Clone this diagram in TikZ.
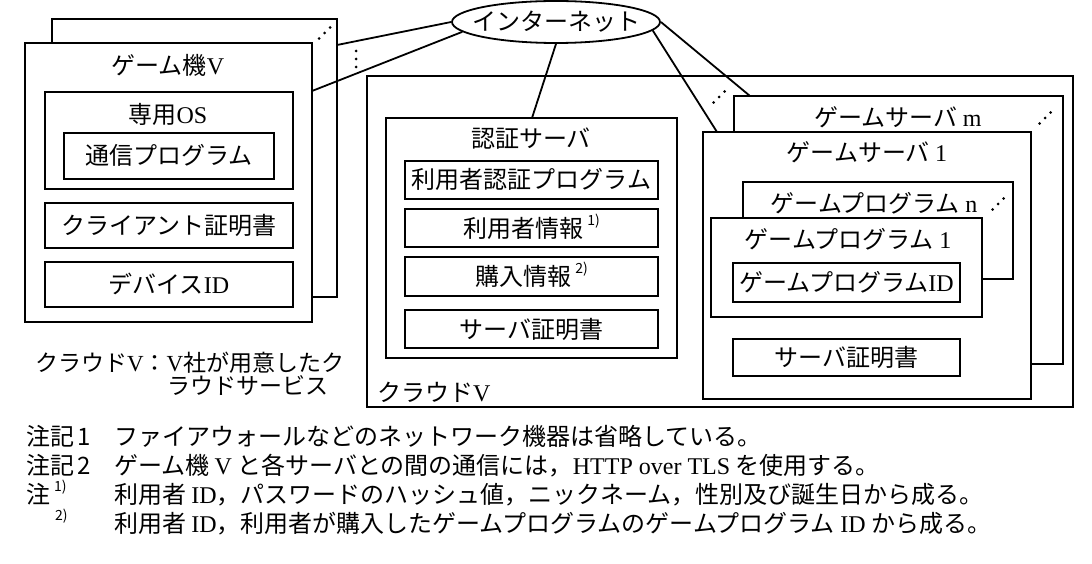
\documentclass[tikz,border=0pt]{standalone}
\usepackage{fontspec}
\setmainfont{Noto Sans CJK JP}
\newfontfamily\lt{Liberation Serif}
\usetikzlibrary{shapes.geometric,fit}
\newcommand\supn[1]{\raisebox{0.5em}{\fontsize{14}{14}\selectfont #1}}
\newcommand\udotsat[2]{\fill (#1-5.5,#2+5.5) circle (1.5) (#1,#2) circle (1.5) (#1+5.5,#2-5.5) circle (1.5);}
\begin{document}
\begin{tikzpicture}[x=1pt,y=-1pt,line width=1.8pt,
  box/.style={draw,fill=white,inner sep=0pt,outer sep=0pt},
  lbl/.style={inner sep=0pt,outer sep=0pt,text height=20pt,text depth=2pt},
  note/.style={inner sep=0pt,outer sep=0pt,anchor=base west,font=\fontsize{24}{27}\selectfont},
  link/.style={line width=1.8pt},
  font=\fontsize{24}{28}\selectfont]
\fill[white] (0,0) rectangle (1092,564);
\useasboundingbox (0,0) rectangle (1092,564);

% game console
\node[box,fit={(52,19)(337,297)}] (consB) {};
\node[box,fit={(25,43)(312,322)}] (consF) {};
\node[lbl] (tCons) at (168,66) {ゲーム機{\lt V}};
\node[box,fit={(45,92)(293,189)}] (os) {};
\node[lbl] (tOS) at (168,115) {専用{\lt OS}};
\node[box,fit={(64,133)(274,179)}] (comm) {};
\node[lbl] (tComm) at (comm.center) {通信プログラム};
\node[box,fit={(45,203)(293,248)}] (ccert) {};
\node[lbl] (tCcert) at (ccert.center) {クライアント証明書};
\node[box,fit={(45,262)(293,307)}] (devid) {};
\node[lbl] (tDevid) at (devid.center) {デバイス{\lt ID}};
\udotsat{324.5}{33}
\fill (356,51) circle (1.5) (356,59) circle (1.5) (356,67) circle (1.5);

% caption
\node[lbl,anchor=west,font=\fontsize{23}{26}\selectfont] (cap1) at (35,362) {クラウド{\lt V}：{\lt V}社が用意したク};
\node[lbl,anchor=west,font=\fontsize{23}{26}\selectfont] (cap2) at (167,385) {ラウドサービス};

% cloud
\node[box,fit={(367,76)(1073,407)}] (cloud) {};
\node[lbl,anchor=west] (tCloud) at (377,392) {クラウド{\lt V}};

% auth server
\node[box,fit={(386,118)(677,358)}] (auth) {};
\node[lbl] (tAuth) at (531,139) {認証サーバ};
\node[box,fit={(405,161)(658,199)}] (uauth) {};
\node[lbl] (tUauth) at (uauth.center) {利用者認証プログラム};
\node[box,fit={(405,209)(658,247)}] (uinfo) {};
\node[lbl] (tUinfo) at (uinfo.center) {利用者情報\,\supn{1)}};
\node[box,fit={(405,257)(658,296)}] (pinfo) {};
\node[lbl] (tPinfo) at (pinfo.center) {購入情報\,\supn{2)}};
\node[box,fit={(405,310)(658,348)}] (scert) {};
\node[lbl] (tScert) at (scert.center) {サーバ証明書};

% game servers
\node[box,fit={(734,96)(1063,364)}] (gsm) {};
\node[lbl] (tGsm) at (898,118) {ゲームサーバ {\lt m}};
\udotsat{1045}{118}
\node[box,fit={(703,132)(1031,399)}] (gs1) {};
\node[lbl] (tGs1) at (867,153) {ゲームサーバ {\lt 1}};
\node[box,fit={(743,182)(1013,279)}] (gpn) {};
\node[lbl] (tGpn) at (874,203) {ゲームプログラム {\lt n}};
\udotsat{998}{204}
\node[box,fit={(711,218)(982,317)}] (gp1) {};
\node[lbl] (tGp1) at (848,239) {ゲームプログラム {\lt 1}};
\node[box,fit={(733,263)(960,302)}] (gpid) {};
\node[lbl] (tGpid) at (gpid.center) {ゲームプログラム{\lt ID}};
\node[box,fit={(733,339)(960,376)}] (gcert) {};
\node[lbl] (tGcert) at (gcert.center) {サーバ証明書};
\udotsat{719}{97}

% internet
\node[draw,ellipse,fill=white,inner sep=0pt,minimum width=208,minimum height=42] (inet) at (556,22) {};
\node[lbl] (tInet) at (inet.center) {インターネット};

\coordinate (pB) at (337,45);
\coordinate (pF) at (312,91);
\coordinate (pA) at (532,118);
\coordinate (p1) at (717,132);
\coordinate (pm) at (750,96);
\draw[link] (inet.west) -- (pB);
\draw[link] (inet.186) -- (pF);
\draw[link] (inet.south) -- (pA);
\draw[link] (inet.-5) -- (p1);
\draw[link] (inet.east) -- (pm);

% notes
\node[note] (n1a) at (26,445) {注記\,1};
\node[note] (n1b) at (114,445) {ファイアウォールなどのネットワーク機器は省略している。};
\node[note] (n2a) at (26,474) {注記\,2};
\node[note] (n2b) at (114,474) {ゲーム機 {\lt V} と各サーバとの間の通信には，{\lt HTTP over TLS} を使用する。};
\node[note] (n3a) at (26,503) {注\,\supn{1)}};
\node[note] (n3b) at (114,503) {利用者 {\lt ID}，パスワードのハッシュ値，ニックネーム，性別及び誕生日から成る。};
\node[note] (n4a) at (55,532) {\supn{2)}};
\node[note] (n4b) at (114,532) {利用者 {\lt ID}，利用者が購入したゲームプログラムのゲームプログラム {\lt ID} から成る。};
\end{tikzpicture}
\end{document}
